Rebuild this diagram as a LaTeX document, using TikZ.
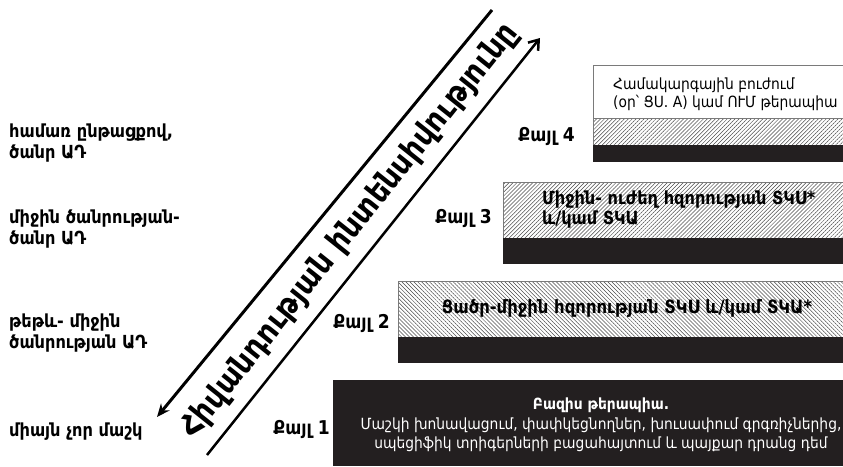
\documentclass[tikz,border=0pt]{standalone}
\usepackage{fontspec}
\setmainfont{DejaVu Sans}[FakeStretch=0.9]
\usepackage{xcolor}
\usepackage{tikz}
\usetikzlibrary{arrows.meta,patterns.meta,positioning}
\definecolor{stepblack}{HTML}{231F20}
\definecolor{hatchgray}{HTML}{4A4A4A}
\definecolor{edgegray}{HTML}{7A7A7A}

\begin{document}
\begin{tikzpicture}[x=1pt, y=-1pt,
    steplabel/.style={font=\bfseries\fontsize{19}{21}\selectfont, anchor=east, inner sep=0pt},
    sidelabel/.style={font=\bfseries\fontsize{18}{21.5}\selectfont, anchor=west, align=left, inner sep=0pt},
    boxtext/.style={font=\fontsize{15.4}{18}\selectfont, anchor=west, align=left, inner sep=0pt},
    hatchNE/.style={pattern={Lines[angle=45, distance=2.8pt, line width=0.5pt]}, pattern color=hatchgray},
    hatchNW/.style={pattern={Lines[angle=-45, distance=2.8pt, line width=0.5pt]}, pattern color=hatchgray}]
    \useasboundingbox (0,0) rectangle (843,466);

    % Step 1
    \fill[stepblack] (333,380) rectangle (843,466);
    \node[font=\fontsize{15.4}{19.5}\selectfont, text=white, align=center, inner sep=0pt] (basis) at (601,425)
        {\textbf{Բազիս թերապիա.}\\Մաշկի խոնավացում, փափկեցնողներ, խուսափում գրգռիչներից,\\սպեցիֆիկ տրիգերների բացահայտում և պայքար դրանց դեմ};
    \node[steplabel] (step1) at (330,429) {Քայլ 1};

    % Step 2
    \draw[hatchNW, draw=edgegray, line width=0.6pt] (398,281) rectangle (843,337);
    \fill[stepblack] (398,337) rectangle (843,363);
    \node[boxtext, font=\bfseries\fontsize{18.3}{20}\selectfont, anchor=center] (lowmid) at (627,309)
        {Ցածր-միջին հզորության ՏԿՍ և/կամ ՏԿԱ*};
    \node[steplabel] (step2) at (390,323) {Քայլ 2};

    % Step 3
    \draw[hatchNE, draw=edgegray, line width=0.6pt] (503,182) rectangle (843,238);
    \fill[stepblack] (503,238) rectangle (843,264);
    \node[boxtext, font=\bfseries\fontsize{18}{20}\selectfont] (midstrong) at (542,210)
        {Միջին- ուժեղ հզորության ՏԿՍ*\\և/կամ ՏԿԱ};
    \node[steplabel] (step3) at (492,218) {Քայլ 3};

    % Step 4
    \draw[fill=white, draw=edgegray, line width=0.6pt] (593,65) rectangle (843,118);
    \draw[hatchNE, draw=edgegray, line width=0.6pt] (593,118) rectangle (843,145);
    \fill[stepblack] (593,145) rectangle (843,162);
    \node[boxtext] (systemic) at (613,94)
        {Համակարգային բուժում\\(օր՝ ՑՍ. A) կամ ՈՒՄ թերապիա};
    \node[steplabel] (step4) at (575,136) {Քայլ 4};

    % Severity labels
    \node[sidelabel] (severe) at (9,143) {համառ ընթացքով,\\ծանր ԱԴ};
    \node[sidelabel] (moderate) at (9,229) {միջին ծանրության-\\ծանր ԱԴ};
    \node[sidelabel] (mild) at (9,333) {թեթև- միջին\\ծանրության ԱԴ};
    \node[sidelabel] (dryskin) at (9,432) {միայն չոր մաշկ};

    % Intensity arrows
    \coordinate (downstart) at (492,10);
    \coordinate (downtip) at (157,417);
    \coordinate (upstart) at (207,455);
    \coordinate (uptip) at (540,38);
    \draw[line width=3pt, -{Stealth[length=13pt, width=11pt]}] (downstart) -- (downtip);
    \draw[line width=2.5pt, -{Straight Barb[length=9pt, width=13pt]}] (upstart) -- (uptip);
    \node[font=\bfseries\fontsize{31.5}{33}\selectfont, rotate=51.4, inner sep=0pt] (intensity) at (350,231)
        {Հիվանդության ինտենսիվությունը};
\end{tikzpicture}
\end{document}
